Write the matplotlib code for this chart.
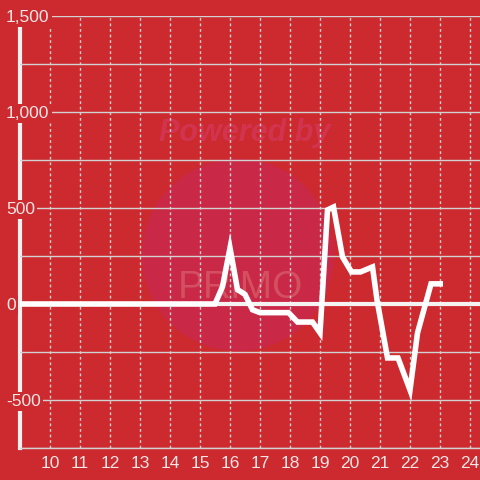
import matplotlib
matplotlib.use("Agg")
import matplotlib.pyplot as plt
from matplotlib.patches import Circle
from matplotlib.ticker import MultipleLocator, FuncFormatter

# data
hours = [9.0, 15.5, 15.75, 16.0, 16.25, 16.5, 16.75, 17.0, 17.95, 18.25,
         18.75, 19.0, 19.25, 19.45, 19.75, 20.05, 20.35, 20.75, 20.9, 21.25,
         21.6, 22.0, 22.25, 22.7, 23.1]
values = [0, 0, 90, 292, 75, 50, -30, -45, -45, -94,
          -94, -150, 490, 505, 245, 167, 167, 193, 21, -281,
          -281, -448, -151, 105, 105]
x_ticks = list(range(10, 25))
y_ticks = [-500, 0, 500, 1000, 1500]

bg = "#CC2A2F"
grid_c = "#D2D2D2"
txt_c = "#F2E6E6"

plt.rcParams['font.family'] = ['Liberation Sans', 'DejaVu Sans']

fig = plt.figure(figsize=(4.8, 4.8), dpi=100, facecolor=bg)
ax = fig.add_axes([20/480, 32/480, 460/480, 432/480])
ax.set_facecolor(bg)

# watermark, behind the grid
ax.add_patch(Circle((238/480, 1 - 255/480), 96/480, transform=fig.transFigure,
                    facecolor="#C92846", edgecolor="none", zorder=0.2, clip_on=False))
ax.text(245/480, 1 - 133/480, "Powered by", transform=fig.transFigure, fontsize=22,
        fontweight="bold", fontstyle="italic", color="#D2344F", ha="center",
        va="center", zorder=0.3)
ax.text(240/480, 1 - 288/480, "PRiMO", transform=fig.transFigure, fontsize=28,
        color="#D45060", ha="center", va="center", zorder=0.3)

ax.set_xlim(9, 24.333)
ax.set_ylim(-750, 1500)

ax.yaxis.set_major_locator(MultipleLocator(500))
ax.yaxis.set_minor_locator(MultipleLocator(250))
ax.set_yticks(y_ticks)
ax.set_xticks(x_ticks)
ax.grid(axis="y", which="both", color=grid_c, linewidth=1)
ax.grid(axis="x", which="major", color=grid_c, linewidth=1, linestyle=(0, (2, 2)))
ax.set_axisbelow(True)

ax.axhline(0, color="#F5F2F2", linewidth=3, zorder=2)
ax.plot(hours, values, color="white", linewidth=4, solid_joinstyle="miter",
        solid_capstyle="butt", zorder=3)

for s in ["top", "right"]:
    ax.spines[s].set_visible(False)
ax.spines["left"].set_color("#F2F0F0")
ax.spines["left"].set_linewidth(3)
ax.spines["left"].set_bounds(-750, 1460)
ax.spines["left"].set_zorder(0.4)
ax.spines["bottom"].set_color(grid_c)
ax.spines["bottom"].set_linewidth(1)

ax.tick_params(axis="both", which="both", length=0, colors=txt_c, labelsize=12.5)
ax.tick_params(axis="x", pad=6)
ax.tick_params(axis="y", pad=10)
ax.yaxis.set_major_formatter(FuncFormatter(lambda v, p: f"{int(v):,}"))
for lab in ax.get_yticklabels():
    lab.set_horizontalalignment("left")
    lab.set_bbox(dict(facecolor=bg, edgecolor="none", pad=1.5))

fig.savefig("out.png", dpi=100, facecolor=bg)
